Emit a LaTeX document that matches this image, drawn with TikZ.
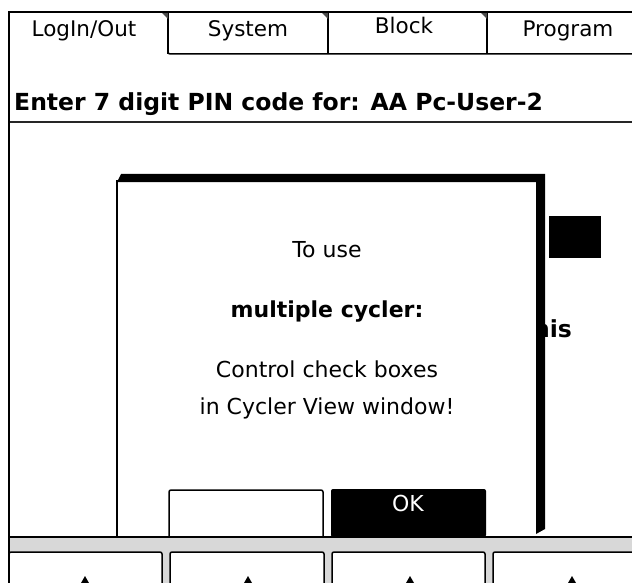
\documentclass[tikz,border=0pt]{standalone}
\usepackage{fontspec}
\setmainfont{DejaVu Sans}
\usetikzlibrary{calc}
\definecolor{barGray}{HTML}{D8D8D8}
\def\tabsep(#1){\draw[line width=2.5pt] (#1, 12) -- (#1, 54); \fill[black!70] (#1-7, 12) -- (#1, 12) -- (#1, 19) -- cycle;}
\def\softkey(#1:#2){\draw[line width=1.5pt, rounded corners=2pt, fill=white] (#1, 590) -- (#1, 552) -- (#2, 552) -- (#2, 590);}
\def\keytip(#1){\fill (#1, 576) -- (#1+8, 590) -- (#1-8, 590) -- cycle;}
\tikzset{
	tabtext/.style={font=\fontsize{21.5}{25}\selectfont, inner sep=0pt, anchor=base},
	prompttext/.style={font=\bfseries\fontsize{23.5}{27}\selectfont, inner sep=0pt},
	msgtext/.style={font=\fontsize{22}{26}\selectfont, inner sep=0pt, anchor=base},
	msgbold/.style={font=\bfseries\fontsize{22}{26}\selectfont, inner sep=0pt, anchor=base}
}

\begin{document}
\begin{tikzpicture}[x=1pt, y=-1pt]
			%%%%% START %%%%%
			
			\useasboundingbox (0, 0) rectangle (632, 583);
			\clip (0, 0) rectangle (632, 583);
			\fill[white] (0, 0) rectangle (632, 583);
			
			% tabs
			\draw[line width=1.5pt, rounded corners=2pt] (168, 30) -- (168, 54) -- (632, 54);
			\tabsep(168)
			\tabsep(328)
			\tabsep(487)
			\node[tabtext] (tabLogin) at (84, 37) {LogIn/Out};
			\node[tabtext] (tabSystem) at (248, 37) {System};
			\node[tabtext] (tabBlock) at (404, 34) {Block};
			\node[tabtext] (tabProgram) at (568, 37) {Program};
			
			% prompt line
			\node[prompttext, anchor=base west] (pinPrompt) at (14, 111) {Enter 7 digit PIN code for: AA Pc-User-2};
			\draw[line width=1.5pt, color=black!85] (9, 122) -- (632, 122);
			
			% page behind the message
			\fill (549, 216) rectangle (601, 258);
			\node[prompttext, anchor=base east] (bgThis) at (572, 337) {this};
			
			% message box
			\fill[white] (117, 178) rectangle (540, 537);
			\fill (117, 182) -- (121, 174) -- (545, 174) -- (545, 529) -- (536, 534) -- (536, 182) -- cycle;
			\draw[line width=1.5pt] (117, 180) -- (117, 537);
			
			\node[msgtext] (msgUse) at (327, 257) {To use};
			\node[msgbold] (msgCycler) at (327, 317) {multiple cycler:};
			\node[msgtext] (msgControl) at (327, 377) {Control check boxes};
			\node[msgtext] (msgWindow) at (327, 414) {in Cycler View window!};
			
			\draw[line width=1.5pt, rounded corners=2pt, fill=white] (169, 537) -- (169, 490) -- (323, 490) -- (323, 537);
			\fill[rounded corners=2pt] (331, 537) -- (331, 489) -- (486, 489) -- (486, 537) -- cycle;
			\node[msgtext, color=white] (btnOK) at (408, 511) {OK};
			
			% soft key bar
			\fill[barGray] (9, 537) rectangle (632, 583);
			\draw[line width=1.5pt] (9, 537) -- (632, 537);
			\softkey(9:162)
			\softkey(170:324)
			\softkey(332:485)
			\softkey(493:640)
			\keytip(85)
			\keytip(248)
			\keytip(410)
			\keytip(572)
			
			% outer frame
			\draw[line width=2pt] (9, 583) -- (9, 12) -- (632, 12);
			
			%%%%% END %%%%%
\end{tikzpicture}
\end{document}
